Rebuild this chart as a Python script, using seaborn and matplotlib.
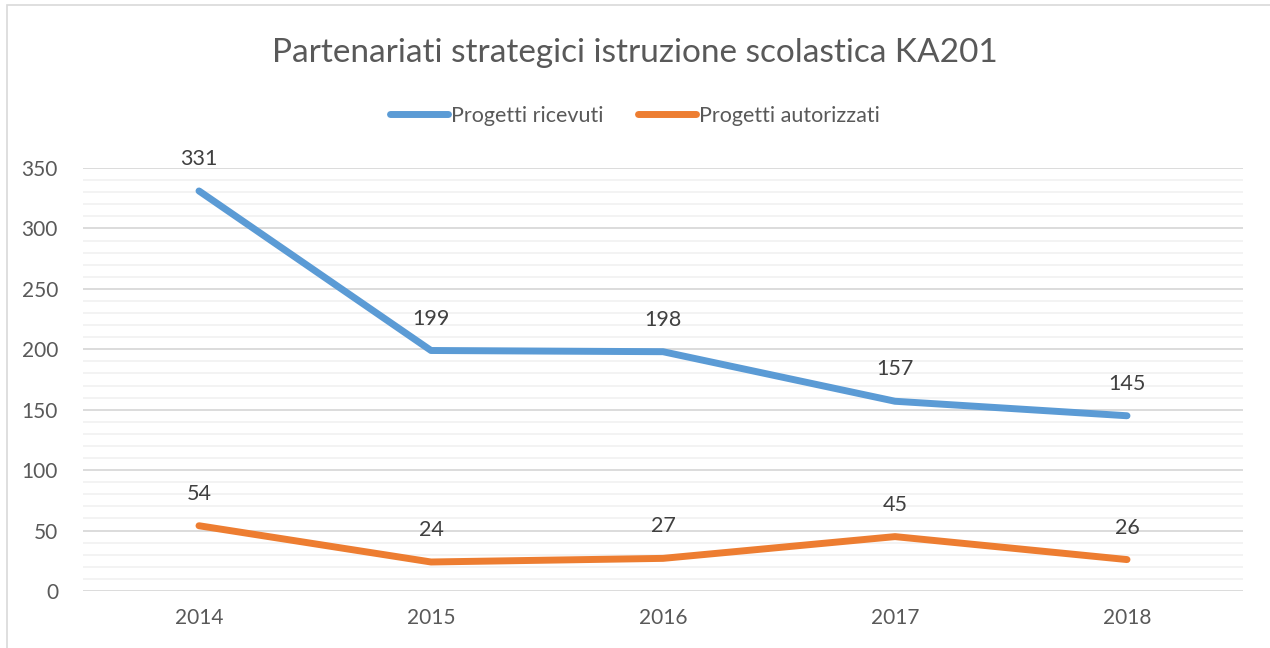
import pandas as pd
import seaborn as sns
import matplotlib.pyplot as plt
from matplotlib.patches import Rectangle
from matplotlib.ticker import MultipleLocator

anni = ['2014', '2015', '2016', '2017', '2018']
ricevuti = [331, 199, 198, 157, 145]
autorizzati = [54, 24, 27, 45, 26]
serie = ['Progetti ricevuti', 'Progetti autorizzati']
colori = ['#5b9bd5', '#ed7d31']

df = pd.DataFrame({
    'Anno': anni * 2,
    'Valore': ricevuti + autorizzati,
    'Serie': [serie[0]] * len(anni) + [serie[1]] * len(anni),
})

sns.set_theme(style='white')
plt.rcParams['font.family'] = ['Lato', 'DejaVu Sans']

fig = plt.figure(figsize=(12.7, 6.48), dpi=100)
ax = fig.add_axes([83 / 1270, 1 - 591 / 648, 1160 / 1270, 423 / 648])

sns.lineplot(data=df, x='Anno', y='Valore', hue='Serie', palette=colori,
             linewidth=5, ax=ax, legend=False, sort=False,
             solid_capstyle='round')

for vals in (ricevuti, autorizzati):
    for i, v in enumerate(vals):
        ax.annotate(str(v), (i, v), xytext=(0, 23), textcoords='offset points',
                    ha='center', va='center', fontsize=15.5, color='#404040')

ax.set_xlim(-0.5, len(anni) - 0.5)
ax.set_ylim(0, 350)
ax.yaxis.set_major_locator(MultipleLocator(50))
ax.yaxis.set_minor_locator(MultipleLocator(10))
ax.grid(which='major', axis='y', color='#d9d9d9', linewidth=1.3)
ax.grid(which='minor', axis='y', color='#f2f2f2', linewidth=1.3)
ax.set_axisbelow(True)
for s in ax.spines.values():
    s.set_visible(False)
ax.tick_params(axis='both', which='both', length=0, labelsize=15,
               colors='#595959', pad=12)
ax.tick_params(axis='y', pad=18)
ax.set_xlabel('')
ax.set_ylabel('')

fig.text(0.5, 1 - 53 / 648, 'Partenariati strategici istruzione scolastica KA201',
         ha='center', va='center', fontsize=24, color='#595959')

handles = [plt.Line2D([], [], color=c, linewidth=5, solid_capstyle='round') for c in colori]
fig.legend(handles, serie, loc='center', bbox_to_anchor=(0.5, 1 - 116 / 648),
           ncol=2, frameon=False, fontsize=15.5, handlelength=2.7,
           handletextpad=0.15, columnspacing=1.6, labelcolor='#595959')

fig.patches.append(Rectangle((7 / 1270, -0.01), 1.1, 1 - 5 / 648 + 0.01,
                             transform=fig.transFigure, fill=False,
                             edgecolor='#d9d9d9', linewidth=1.2))

fig.savefig('out.png', dpi=100)
